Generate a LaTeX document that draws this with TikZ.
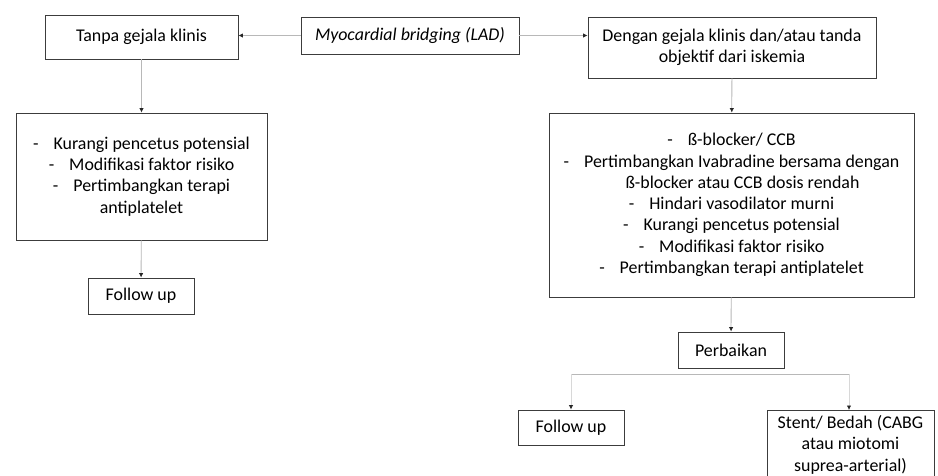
\documentclass[tikz,border=0pt]{standalone}
\usepackage{fontspec}
\setmainfont{Carlito}
\usetikzlibrary{arrows.meta}
\definecolor{boxline}{HTML}{3C3C3C}
\definecolor{conn}{HTML}{B8B8B8}
\definecolor{connfaint}{HTML}{D8D8D8}
\tikzset{
  box/.style={draw=boxline, line width=0.9pt, inner sep=2pt, align=center,
    font=\fontsize{17.9}{21.3}\selectfont, text=black},
  conn/.style={draw=conn, line width=0.8pt,
    -{Latex[length=4.5pt,width=4.5pt,color=black!85]}},
  connf/.style={draw=connfaint, line width=0.8pt,
    -{Latex[length=4.5pt,width=4.5pt,color=black!85]}},
}
\newcommand{\dsh}{-\hspace{15pt}}
\begin{document}
\begin{tikzpicture}[x=1pt,y=-1pt]
\clip (0,0) rectangle (938,475);
\fill[white] (0,0) rectangle (938,475);

\node[box, minimum width=193pt, minimum height=44pt] (tanpa) at (141.5,37) {Tanpa gejala klinis};
\node[box, minimum width=218pt, minimum height=37pt] (myo) at (410,35.5) {\itshape Myocardial bridging (LAD)};
\node[box, minimum width=288pt, minimum height=61pt] (dengan) at (732,47.5) {Dengan gejala klinis dan/atau tanda\\objektif dari iskemia};

\node[box, minimum width=251pt, minimum height=127pt] (llist) at (141.5,176.5)
  {\dsh Kurangi pencetus potensial\\
   \dsh Modifikasi faktor risiko\\
   \dsh Pertimbangkan terapi\\
   antiplatelet};
\node[box, minimum width=106pt, minimum height=36pt] (fu1) at (141,296) {Follow up};

\node[box, minimum width=365pt, minimum height=184pt] (rlist) at (731.5,205)
  {\dsh ß-blocker/ CCB\\
   \dsh Pertimbangkan Ivabradine bersama dengan\\
   \hspace{22pt}ß-blocker atau CCB dosis rendah\\
   \dsh Hindari vasodilator murni\\
   \dsh Kurangi pencetus potensial\\
   \dsh Modifikasi faktor risiko\\
   \dsh Pertimbangkan terapi antiplatelet};

\node[box, minimum width=106pt, minimum height=36pt] (perb) at (731,350) {Perbaikan};
\node[box, minimum width=106pt, minimum height=35pt] (fu2) at (571,427.5) {Follow up};
\node[box, minimum width=167pt, minimum height=68pt, anchor=north, font=\fontsize{17.9}{21.5}\selectfont] (stent) at (850.5,410)
  {Stent/ Bedah (CABG\\atau miotomi\\suprea-arterial)};

\coordinate (bl) at (571,374);
\coordinate (br) at (849,374);

\draw[conn] (myo.west) -- (myo.west -| tanpa.east);
\draw[conn] (myo.east) -- (myo.east -| dengan.west);
\draw[conn] (tanpa) -- (llist);
\draw[conn] (llist) -- (fu1);
\draw[conn] (dengan) -- (rlist);
\draw[conn] (rlist) -- (perb);
\draw[draw=conn, line width=0.8pt] (bl) -- (br);
\draw[connf] (bl) -- (fu2.north);
\draw[connf] (br) -- (br |- stent.north);
\end{tikzpicture}
\end{document}
